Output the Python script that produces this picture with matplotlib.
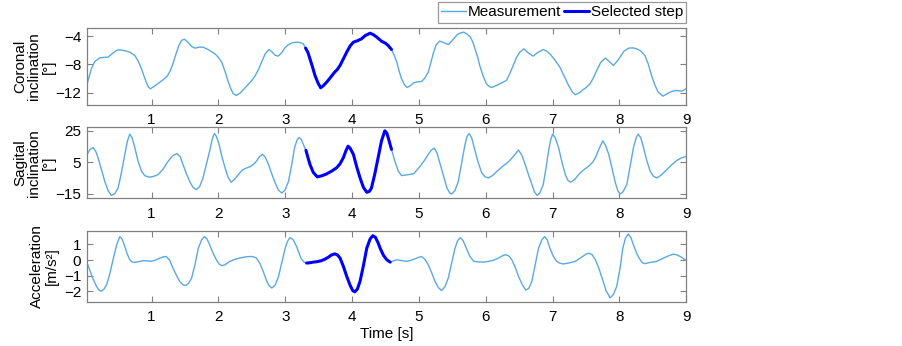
import matplotlib
matplotlib.use("Agg")
import matplotlib.pyplot as plt
import numpy as np

plt.rcParams['font.family'] = ['Liberation Sans', 'DejaVu Sans']

# ---- data ----
cor_t = [0.03, 0.07, 0.10, 0.15, 0.226, 0.29, 0.35, 0.42, 0.48, 0.525, 0.60, 0.675, 0.75, 0.80, 0.85, 0.89,
         0.925, 0.955, 0.985, 1.05, 1.125, 1.18, 1.235, 1.28, 1.32, 1.37, 1.41, 1.45, 1.49, 1.55, 1.60, 1.65,
         1.71, 1.77, 1.85, 1.95, 2.00, 2.05, 2.10, 2.15, 2.19, 2.22, 2.27, 2.33, 2.40, 2.50, 2.55, 2.60, 2.646,
         2.70, 2.756, 2.80, 2.85, 2.896, 2.95, 3.00, 3.045, 3.10, 3.17, 3.22, 3.27, 3.305, 3.34, 3.37, 3.41,
         3.445, 3.49, 3.53, 3.57, 3.62, 3.68, 3.74, 3.78, 3.82, 3.87, 3.92, 3.97, 4.02, 4.08, 4.14, 4.20, 4.27,
         4.32, 4.37, 4.44, 4.50, 4.54, 4.59, 4.63, 4.67, 4.70, 4.74, 4.78, 4.82, 4.87, 4.92, 4.98, 5.04, 5.09,
         5.14, 5.18, 5.22, 5.26, 5.31, 5.37, 5.44, 5.50, 5.57, 5.62, 5.67, 5.72, 5.77, 5.81, 5.84, 5.88, 5.91,
         5.96, 6.01, 6.05, 6.09, 6.15, 6.21, 6.26, 6.31, 6.36, 6.41, 6.46, 6.51, 6.57, 6.64, 6.71, 6.78, 6.86,
         6.91, 6.96, 7.03, 7.11, 7.18, 7.24, 7.29, 7.34, 7.40, 7.46, 7.51, 7.56, 7.61, 7.66, 7.72, 7.79, 7.85,
         7.91, 7.96, 8.01, 8.07, 8.14, 8.20, 8.26, 8.32, 8.38, 8.43, 8.48, 8.53, 8.58, 8.65, 8.70, 8.76, 8.83,
         8.88, 8.93, 9.0]
cor_v = [-10.96, -9.6, -8.6, -7.6, -7.06, -7.0, -6.96, -6.4, -6.0, -5.93, -6.05, -6.26, -6.73, -7.5, -8.6, -9.7,
         -10.6, -11.2, -11.44, -11.0, -10.5, -10.1, -9.65, -8.9, -7.9, -6.4, -5.3, -4.6, -4.42, -4.9, -5.45, -5.69,
         -5.55, -5.55, -5.9, -6.5, -7.0, -7.67, -9.0, -10.5, -11.5, -12.1, -12.38, -12.0, -11.3, -10.26, -9.6, -8.7, -7.67,
         -6.5, -5.88, -6.2, -6.7, -6.82, -6.3, -5.6, -5.22, -4.95, -4.85, -4.9, -5.08, -5.69, -6.3, -7.2, -8.4,
         -9.55, -10.6, -11.29, -11.0, -10.5, -9.8, -9.08, -8.7, -8.14, -7.2, -6.26, -5.4, -4.85, -4.65, -4.38, -3.9, -3.58,
         -3.8, -4.14, -4.71, -5.0, -5.32, -5.88, -6.7, -7.67, -8.8, -10.0, -10.8, -11.25, -11.0, -10.6, -10.45, -10.4, -9.9,
         -9.08, -7.7, -6.26, -5.2, -4.71, -4.9, -5.18, -4.6, -3.81, -3.55, -3.44, -3.7, -4.14, -4.9, -5.8, -7.0, -8.14,
         -9.6, -10.73, -11.1, -11.25, -11.0, -10.73, -10.5, -10.26, -9.3, -8.14, -7.0, -6.26, -5.79, -6.4, -6.82, -6.3, -5.88,
         -6.1, -6.5, -7.3, -8.38, -9.8, -10.96, -11.8, -12.28, -12.0, -11.53, -11.2, -10.73, -9.9, -8.85, -7.7, -7.1, -7.6,
         -8.14, -7.6, -6.96, -6.1, -5.69, -5.65, -5.79, -6.1, -6.73, -7.9, -9.55, -10.9, -11.9, -12.47, -12.2, -11.9, -11.67,
         -11.7, -11.76, -11.43]

sag_t = [0.036, 0.08, 0.126, 0.165, 0.20, 0.25, 0.30, 0.35, 0.40, 0.45, 0.50, 0.55, 0.60, 0.64, 0.675, 0.71,
         0.75, 0.80, 0.85, 0.90, 0.965, 1.03, 1.10, 1.17, 1.25, 1.32, 1.38, 1.43, 1.47, 1.52, 1.57, 1.62, 1.67,
         1.72, 1.77, 1.82, 1.87, 1.91, 1.94, 1.97, 2.01, 2.05, 2.10, 2.145, 2.19, 2.24, 2.30, 2.35, 2.40, 2.48,
         2.53, 2.57, 2.62, 2.66, 2.70, 2.75, 2.80, 2.85, 2.90, 2.95, 3.00, 3.05, 3.10, 3.14, 3.18, 3.21, 3.24,
         3.27, 3.31, 3.34, 3.37, 3.42, 3.48, 3.55, 3.62, 3.70, 3.77, 3.82, 3.87, 3.91, 3.94, 3.97, 4.02, 4.07,
         4.12, 4.17, 4.22, 4.26, 4.29, 4.34, 4.39, 4.44, 4.49, 4.52, 4.54, 4.59, 4.64, 4.69, 4.74, 4.82, 4.92,
         5.02, 5.08, 5.14, 5.19, 5.23, 5.27, 5.32, 5.37, 5.42, 5.46, 5.49, 5.54, 5.59, 5.64, 5.69, 5.72, 5.75,
         5.79, 5.84, 5.89, 5.94, 5.99, 6.04, 6.10, 6.17, 6.25, 6.34, 6.42, 6.49, 6.54, 6.59, 6.64, 6.69, 6.73,
         6.77, 6.81, 6.86, 6.90, 6.94, 6.97, 7.00, 7.04, 7.09, 7.14, 7.19, 7.23, 7.27, 7.33, 7.39, 7.46, 7.54,
         7.60, 7.64, 7.70, 7.75, 7.79, 7.84, 7.89, 7.94, 7.98, 8.01, 8.05, 8.11, 8.16, 8.21, 8.25, 8.28, 8.32,
         8.36, 8.41, 8.46, 8.51, 8.56, 8.63, 8.71, 8.78, 8.86, 8.93, 9.0]
sag_v = [10.0, 13.2, 14.3, 12.0, 7.9, 0.5, -7.1, -13.0, -16.1, -15.0, -11.4, -1.5, 10.0, 18.5, 22.9, 20.5,
         14.3, 5.5, -0.7, -3.6, -4.5, -4.0, -2.8, 0.5, 5.7, 9.2, 10.5, 8.5, 3.6, -2.0, -7.1, -11.0, -12.4,
         -10.5, -5.0, 3.5, 12.2, 20.0, 23.3, 21.5, 16.4, 9.0, 1.5, -4.5, -7.7, -6.0, -2.8, -0.3, 1.0, 2.3,
         3.8, 5.7, 8.8, 10.0, 8.3, 3.6, -2.5, -8.2, -12.8, -14.6, -12.5, -7.1, 4.0, 14.3, 19.5, 20.7, 19.5,
         16.4, 12.6, 8.0, 3.6, -1.5, -4.3, -3.6, -2.4, -0.5, 1.5, 4.0, 7.9, 12.5, 15.2, 14.0, 10.0, 2.0,
         -5.0, -11.0, -14.1, -13.5, -11.4, -2.5, 7.9, 18.5, 25.0, 23.5, 20.7, 13.2, 5.7, -0.5, -3.5, -3.0, -2.4,
         2.5, 6.0, 10.0, 13.0, 13.9, 11.0, 3.6, -4.0, -11.4, -14.5, -15.2, -13.0, -7.1, 4.5, 16.4, 21.5, 23.3,
         20.5, 12.2, 4.5, -1.7, -4.3, -5.0, -3.5, -0.7, 2.3, 5.3, 9.0, 12.8, 9.5, 3.6, -3.0, -9.2, -14.0,
         -16.1, -14.5, -9.2, 1.0, 12.2, 19.0, 22.9, 20.5, 14.3, 5.0, -2.8, -6.5, -7.7, -6.0, -2.8, 0.0, 2.5,
         5.0, 7.9, 14.0, 18.6, 16.0, 10.0, 1.0, -8.2, -13.5, -15.2, -14.0, -9.2, 2.5, 14.3, 20.5, 22.9, 20.5,
         14.3, 6.0, -0.7, -4.0, -5.0, -3.0, 0.4, 3.3, 6.2, 7.8, 8.7]

acc_t = [0.03, 0.065, 0.10, 0.14, 0.176, 0.21, 0.25, 0.29, 0.33, 0.38, 0.43, 0.48, 0.525, 0.56, 0.60, 0.64,
         0.675, 0.71, 0.75, 0.81, 0.875, 0.94, 1.0, 1.06, 1.125, 1.17, 1.22, 1.27, 1.32, 1.37, 1.42, 1.47, 1.51,
         1.555, 1.60, 1.65, 1.70, 1.75, 1.79, 1.83, 1.87, 1.92, 1.97, 2.01, 2.05, 2.10, 2.17, 2.25, 2.32, 2.40,
         2.47, 2.52, 2.57, 2.62, 2.67, 2.72, 2.76, 2.80, 2.85, 2.90, 2.95, 3.0, 3.035, 3.07, 3.12, 3.17, 3.21,
         3.24, 3.28, 3.32, 3.37, 3.42, 3.48, 3.54, 3.59, 3.64, 3.69, 3.74, 3.78, 3.82, 3.87, 3.92, 3.97, 4.01,
         4.04, 4.08, 4.12, 4.17, 4.22, 4.27, 4.31, 4.35, 4.39, 4.42, 4.47, 4.52, 4.57, 4.62, 4.67, 4.75, 4.82,
         4.88, 4.94, 5.0, 5.04, 5.09, 5.14, 5.19, 5.24, 5.29, 5.34, 5.39, 5.44, 5.49, 5.54, 5.58, 5.62, 5.66,
         5.71, 5.76, 5.82, 5.90, 5.97, 6.04, 6.11, 6.20, 6.26, 6.30, 6.35, 6.39, 6.44, 6.49, 6.55, 6.60, 6.645,
         6.69, 6.74, 6.79, 6.84, 6.88, 6.92, 6.96, 7.01, 7.06, 7.11, 7.16, 7.25, 7.34, 7.44, 7.50, 7.54, 7.59,
         7.64, 7.69, 7.74, 7.80, 7.86, 7.91, 7.96, 8.01, 8.05, 8.09, 8.13, 8.17, 8.21, 8.26, 8.31, 8.345, 8.38,
         8.46, 8.56, 8.62, 8.68, 8.75, 8.81, 8.86, 8.91, 8.96, 9.0]
acc_v = [-0.13, -0.5, -0.93, -1.35, -1.67, -1.9, -1.99, -1.85, -1.56, -0.8, 0.13, 1.0, 1.50, 1.35, 0.87, 0.35,
         0.02, -0.12, -0.15, -0.1, -0.04, -0.05, -0.08, 0.0, 0.13, 0.2, 0.23, 0.0, -0.51, -0.95, -1.35, -1.58, -1.63,
         -1.48, -1.14, -0.3, 0.76, 1.3, 1.50, 1.35, 0.97, 0.45, 0.02, -0.25, -0.36, -0.3, -0.08, 0.05, 0.13, 0.2,
         0.23, 0.22, 0.13, -0.2, -0.72, -1.3, -1.65, -1.78, -1.6, -1.04, -0.15, 0.76, 1.2, 1.44, 1.3, 0.87, 0.4,
         0.08, -0.12, -0.19, -0.17, -0.13, -0.1, -0.04, 0.05, 0.17, 0.32, 0.40, 0.33, 0.13, -0.4, -1.04, -1.6, -1.95,
         -2.03, -1.85, -1.35, -0.35, 0.76, 1.35, 1.56, 1.45, 1.1, 0.76, 0.3, 0.02, -0.13, -0.05, 0.02, -0.04, -0.08,
         -0.02, 0.08, 0.18, 0.23, 0.05, -0.30, -0.8, -1.35, -1.75, -1.95, -1.7, -1.14, -0.2, 0.76, 1.25, 1.44, 1.25,
         0.76, 0.25, -0.08, -0.12, -0.13, -0.08, -0.02, 0.15, 0.3, 0.34, 0.25, 0.02, -0.45, -1.04, -1.6, -1.92, -1.8,
         -1.35, -0.3, 0.76, 1.3, 1.50, 1.3, 0.76, 0.25, -0.08, -0.2, -0.25, -0.18, -0.08, 0.2, 0.38, 0.44, 0.35,
         0.02, -0.5, -1.14, -1.95, -2.41, -2.2, -1.67, -0.5, 0.76, 1.4, 1.67, 1.45, 0.97, 0.4, 0.02, -0.17, -0.23,
         -0.15, -0.08, 0.05, 0.17, 0.3, 0.38, 0.33, 0.23, 0.08, -0.02]

step_start, step_end = 3.29, 4.60

x_ticks = [1, 2, 3, 4, 5, 6, 7, 8, 9]
cor_ticks = [-12, -8, -4]
sag_ticks = [-15, 5, 25]
acc_ticks = [-2, -1, 0, 1]

ylabels = ["Coronal\ninclination\n[°]", "Sagital\ninclination\n[°]", "Acceleration\n[m/s²]"]

light = '#5aa9e0'
bold = '#0000ff'
frame = '#808080'
fs = 11

fig = plt.figure(figsize=(9.03, 3.46), dpi=100)
L, W = 0.096, 0.664
boxes = [(L, 0.697, W, 0.221), (L, 0.427, W, 0.205), (L, 0.128, W, 0.204)]
series = [(cor_t, cor_v, cor_ticks, (-13.7, -2.9)),
          (sag_t, sag_v, sag_ticks, (-17.9, 27.2)),
          (acc_t, acc_v, acc_ticks, (-2.66, 1.85))]
label_x = [-0.052, -0.052, -0.047]

axes = []
for i, (box, (t, v, yt, yl)) in enumerate(zip(boxes, series)):
    ax = fig.add_axes(box)
    t = np.array(t); v = np.array(v)
    l1, = ax.plot(t, v, color=light, lw=1.0)
    m = (t >= step_start) & (t <= step_end)
    l2, = ax.plot(t[m], v[m], color=bold, lw=2.2, solid_capstyle='round')
    ax.set_xlim(0.03, 9.0)
    ax.set_ylim(*yl)
    ax.set_xticks(x_ticks)
    ax.set_yticks(yt)
    ax.tick_params(direction='in', length=4, width=0.8, color=frame, labelsize=fs,
                   top=True, right=True, pad=4)
    ax.tick_params(axis='x', pad=6)
    for s in ax.spines.values():
        s.set_color(frame)
        s.set_linewidth(0.9)
    ax.set_ylabel(ylabels[i], fontsize=fs, linespacing=1.02)
    ax.yaxis.set_label_coords(label_x[i], 0.5)
    axes.append(ax)

axes[2].set_xlabel("Time [s]", fontsize=fs, labelpad=2)

leg = fig.legend([l1, l2], ["Measurement", "Selected step"], loc='upper right',
                 bbox_to_anchor=(0.760, 0.993), ncol=2, fontsize=fs, frameon=True,
                 fancybox=False, edgecolor=frame, handlelength=1.6, handletextpad=0.15,
                 columnspacing=0.2, borderpad=0.2, borderaxespad=0.0)
leg.get_frame().set_linewidth(0.9)

fig.savefig("out.png", dpi=100)
